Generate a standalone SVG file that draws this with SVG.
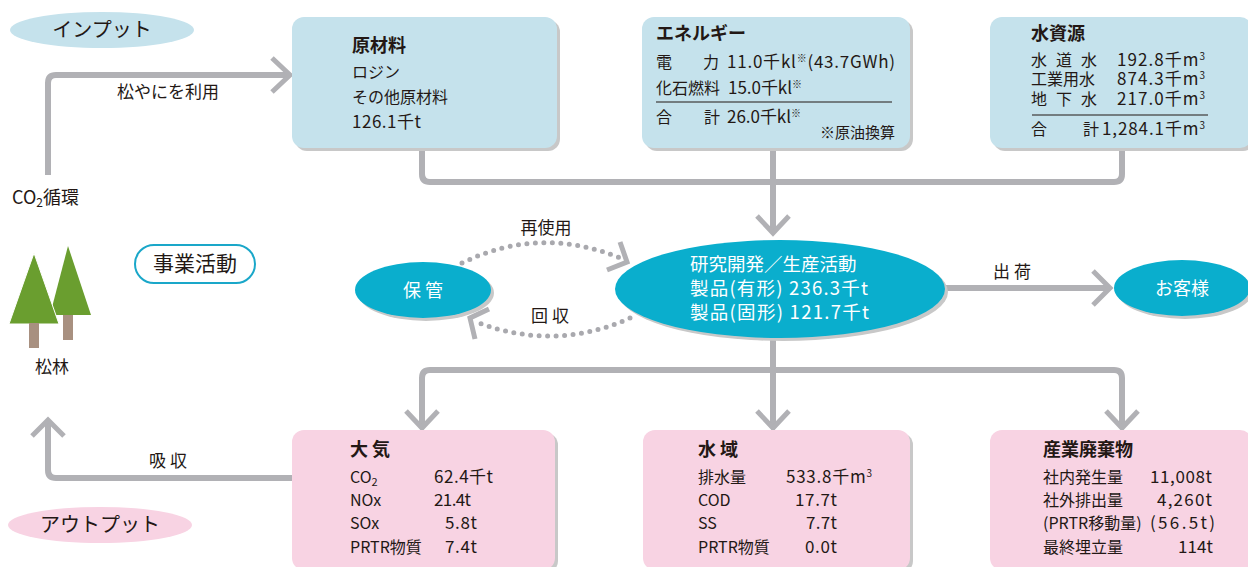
<svg xmlns="http://www.w3.org/2000/svg" width="1248" height="567" viewBox="0 0 1248 567">
  <style>
    text { font-family: "Noto Sans CJK JP", "Noto Sans", sans-serif; fill: #231815; }
    .t { font-size: 16px; }
    .n { font-size: 17px; }
    .h { font-size: 18px; font-weight: bold; }
    .lbl { font-size: 17px; }
    .w { fill: #ffffff; }
    .blue { fill: #c5e2ec; }
    .pink { fill: #f8d3e3; }
    .shadow { fill: #c8c8c8; }
    .cyan { fill: #0aaecd; }
    .conn { fill: none; stroke: #b1b1b5; stroke-width: 6; stroke-linejoin: round; }
    .dots { fill: none; stroke: #a9a9ae; stroke-width: 5; stroke-linecap: round; stroke-dasharray: 0 8.5; }
    .head { fill: none; stroke: #b1b1b5; stroke-width: 5; }
    .sup { font-size: 10px; }
  </style>

  <!-- legend labels -->
  <g id="input-label">
    <ellipse cx="102" cy="30" rx="92" ry="18" class="blue"/>
    <text x="102" y="37" font-size="20" text-anchor="middle">インプット</text>
  </g>
  <g id="output-label">
    <ellipse cx="100" cy="525" rx="92" ry="18" class="pink"/>
    <text x="100" y="532" font-size="20" text-anchor="middle">アウトプット</text>
  </g>
  <g id="business-label">
    <rect x="135" y="245" width="120" height="38" rx="19" fill="#ffffff" stroke="#1aa7c9" stroke-width="2"/>
    <text x="195" y="271" font-size="21" text-anchor="middle">事業活動</text>
  </g>

  <!-- connectors -->
  <g id="connectors">
    <path class="conn" d="M48,175 V83 Q48,75 56,75 H288"/>
    <path class="head" d="M272,58 L290,75 L272,92"/>
    <path class="conn" d="M422,148 V174 Q422,182 430,182 H1114 Q1122,182 1122,174 V148"/>
    <path class="conn" d="M773,148 V231"/>
    <path class="head" d="M757,216 L773,233 L789,216"/>
    <path class="conn" d="M945,288 H1108"/>
    <path class="head" d="M1093,271 L1110,288 L1093,305"/>
    <path class="conn" d="M773,338 V425"/>
    <path class="conn" d="M422,425 V378 Q422,370 430,370 H1114 Q1122,370 1122,378 V425"/>
    <path class="head" d="M406,411 L422,428 L438,411"/>
    <path class="head" d="M757,411 L773,428 L789,411"/>
    <path class="head" d="M1106,411 L1122,428 L1138,411"/>
    <path class="conn" d="M292,478 H56 Q48,478 48,470 V422"/>
    <path class="head" d="M32,436 L48,420 L64,436"/>
    <path class="dots" d="M462,263 Q540,225 620,258"/>
    <path class="head" d="M620,242 L627,262 L607,270"/>
    <path class="dots" d="M630,318 Q555,352 476,322"/>
    <path class="head" d="M489,309 L470,318 L475,339"/>
    <text x="168" y="98" class="lbl" text-anchor="middle">松やにを利用</text>
    <text x="546" y="234" class="lbl" text-anchor="middle">再使用</text>
    <text x="550" y="322" class="lbl" text-anchor="middle">回 収</text>
    <text x="1012" y="278" class="lbl" text-anchor="middle">出 荷</text>
    <text x="168" y="467" class="lbl" text-anchor="middle">吸 収</text>
  </g>

  <!-- CO2 cycle and pine forest -->
  <g id="co2-cycle">
    <text x="12" y="204" font-size="18">CO<tspan font-size="12" dy="3">2</tspan><tspan dy="-3">循環</tspan></text>
  </g>
  <g id="pine-forest">
    <polygon points="68,246 91,315 50,315" fill="#6a9e2f"/>
    <rect x="63" y="315" width="10" height="25" fill="#a89080"/>
    <polygon points="34,253 59,324 9,324" fill="#6a9e2f" stroke="#ffffff" stroke-width="1"/>
    <rect x="29" y="323" width="10" height="25" fill="#a89080"/>
    <text x="52" y="373" font-size="17" text-anchor="middle">松林</text>
  </g>

  <!-- input boxes -->
  <g id="raw-materials">
    <rect x="295" y="20" width="265" height="131" rx="12" class="shadow"/>
    <rect x="292" y="17" width="265" height="131" rx="12" class="blue"/>
    <text x="352" y="52" class="h">原材料</text>
    <text x="352" y="78" class="t">ロジン</text>
    <text x="352" y="103" class="t">その他原材料</text>
    <text x="352" y="128" class="n" textLength="69">126.1千t</text>
  </g>
  <g id="energy">
    <rect x="645" y="20" width="268" height="131" rx="12" class="shadow"/>
    <rect x="642" y="17" width="268" height="131" rx="12" class="blue"/>
    <text x="656" y="40" class="h">エネルギー</text>
    <text x="656" y="68" class="t">電</text>
    <text x="703" y="68" class="t">力</text>
    <text x="727" y="68" class="n" textLength="168">11.0千kl<tspan class="sup" dy="-6">※</tspan><tspan dy="6">(43.7GWh)</tspan></text>
    <text x="656" y="94" class="t">化石燃料</text>
    <text x="728" y="94" class="n" textLength="74">15.0千kl<tspan class="sup" dy="-6">※</tspan></text>
    <line x1="656" y1="102" x2="892" y2="102" stroke="#231815" stroke-width="1"/>
    <text x="656" y="123" class="t">合</text>
    <text x="704" y="123" class="t">計</text>
    <text x="727" y="123" class="n" textLength="74">26.0千kl<tspan class="sup" dy="-6">※</tspan></text>
    <text x="895" y="138" font-size="15" text-anchor="end">※原油換算</text>
  </g>
  <g id="water-resources">
    <rect x="993" y="20" width="262" height="131" rx="12" class="shadow"/>
    <rect x="990" y="17" width="262" height="131" rx="12" class="blue"/>
    <text x="1031" y="40" class="h">水資源</text>
    <text x="1031" y="66" class="t" textLength="66">水 道 水</text>
    <text x="1117" y="66" class="n" textLength="88">192.8千m<tspan class="sup" dy="-6">3</tspan></text>
    <text x="1031" y="85" class="t">工業用水</text>
    <text x="1117" y="85" class="n" textLength="88">874.3千m<tspan class="sup" dy="-6">3</tspan></text>
    <text x="1031" y="105" class="t" textLength="66">地 下 水</text>
    <text x="1117" y="105" class="n" textLength="88">217.0千m<tspan class="sup" dy="-6">3</tspan></text>
    <line x1="1032" y1="115" x2="1208" y2="115" stroke="#231815" stroke-width="1"/>
    <text x="1031" y="135" class="t">合</text>
    <text x="1083" y="135" class="t">計</text>
    <text x="1102" y="135" class="n" textLength="103">1,284.1千m<tspan class="sup" dy="-6">3</tspan></text>
  </g>

  <!-- activity nodes -->
  <g id="storage">
    <ellipse cx="426" cy="293" rx="68" ry="28" class="shadow"/>
    <ellipse cx="423" cy="290" rx="68" ry="28" class="cyan"/>
    <text x="423" y="297" font-size="18" text-anchor="middle" class="w">保 管</text>
  </g>
  <g id="production">
    <ellipse cx="783" cy="292" rx="165" ry="49" class="shadow"/>
    <ellipse cx="780" cy="289" rx="165" ry="49" class="cyan"/>
    <text x="690" y="271" font-size="18.5" class="w">研究開発／生産活動</text>
    <text x="690" y="295" font-size="18.5" class="w" textLength="178">製品(有形) 236.3千t</text>
    <text x="690" y="319" font-size="18.5" class="w" textLength="179">製品(固形) 121.7千t</text>
  </g>
  <g id="customers">
    <ellipse cx="1185" cy="291" rx="68" ry="28" class="shadow"/>
    <ellipse cx="1182" cy="288" rx="68" ry="28" class="cyan"/>
    <text x="1182" y="295" font-size="18" text-anchor="middle" class="w">お客様</text>
  </g>

  <!-- output boxes -->
  <g id="air">
    <rect x="295" y="433" width="263" height="140" rx="12" class="shadow"/>
    <rect x="292" y="430" width="263" height="140" rx="12" class="pink"/>
    <text x="350" y="456" class="h">大 気</text>
    <text x="350" y="483" class="t">CO<tspan font-size="11" dy="3">2</tspan></text>
    <text x="434" y="483" class="n" textLength="59">62.4千t</text>
    <text x="350" y="506" class="t">NOx</text>
    <text x="434" y="506" class="n" textLength="37">21.4t</text>
    <text x="350" y="529" class="t">SOx</text>
    <text x="445" y="529" class="n" textLength="32">5.8t</text>
    <text x="350" y="553" class="t">PRTR物質</text>
    <text x="445" y="553" class="n" textLength="32">7.4t</text>
  </g>
  <g id="water-area">
    <rect x="646" y="433" width="267" height="140" rx="12" class="shadow"/>
    <rect x="643" y="430" width="267" height="140" rx="12" class="pink"/>
    <text x="698" y="456" class="h">水 域</text>
    <text x="698" y="483" class="t">排水量</text>
    <text x="786" y="483" class="n" textLength="86">533.8千m<tspan class="sup" dy="-6">3</tspan></text>
    <text x="698" y="506" class="t">COD</text>
    <text x="795" y="506" class="n" textLength="42">17.7t</text>
    <text x="698" y="529" class="t">SS</text>
    <text x="806" y="529" class="n" textLength="31">7.7t</text>
    <text x="698" y="553" class="t">PRTR物質</text>
    <text x="805" y="553" class="n" textLength="32">0.0t</text>
  </g>
  <g id="industrial-waste">
    <rect x="993" y="433" width="262" height="140" rx="12" class="shadow"/>
    <rect x="990" y="430" width="262" height="140" rx="12" class="pink"/>
    <text x="1043" y="456" class="h">産業廃棄物</text>
    <text x="1043" y="483" class="t">社内発生量</text>
    <text x="1150" y="483" class="n" textLength="62">11,008t</text>
    <text x="1043" y="506" class="t">社外排出量</text>
    <text x="1157" y="506" class="n" textLength="55">4,260t</text>
    <text x="1043" y="529" class="t">(PRTR移動量)</text>
    <text x="1150" y="529" class="n" textLength="65">(56.5t)</text>
    <text x="1043" y="553" class="t">最終埋立量</text>
    <text x="1178" y="553" class="n" textLength="35">114t</text>
  </g>
</svg>
